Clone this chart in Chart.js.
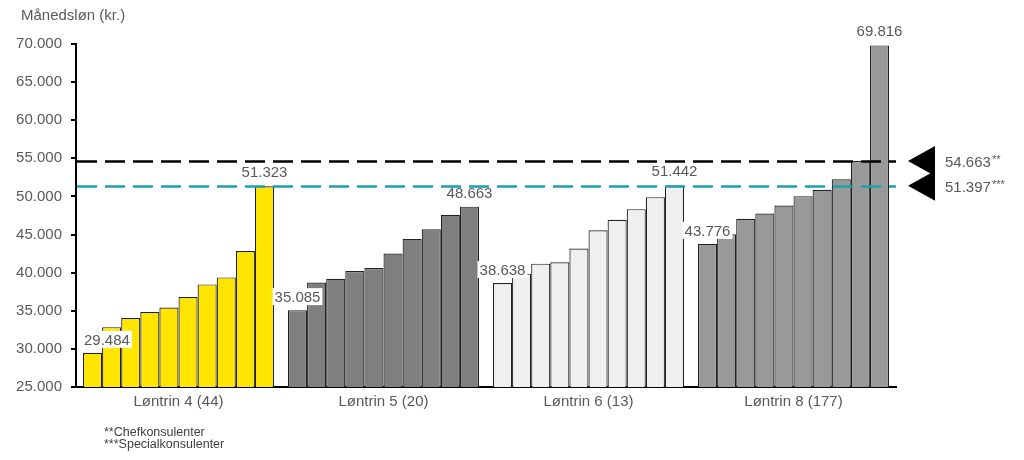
<!DOCTYPE html>
<html lang="da">
<head>
<meta charset="utf-8">
<title>Månedsløn pr. løntrin</title>
<script src="https://cdn.jsdelivr.net/npm/chart.js@4/dist/chart.umd.min.js"></script>
<style>
  html, body { margin: 0; padding: 0; background: #fff; }
  #wrap { width: 1024px; height: 460px; position: relative; }
</style>
</head>
<body>
<div id="wrap"><canvas id="chart"></canvas></div>
<script>
// Data
const groupLabels = ['Løntrin 4 (44)', 'Løntrin 5 (20)', 'Løntrin 6 (13)', 'Løntrin 8 (177)']
const loentrin4 = [29484, 32850, 34040, 34830, 35430, 36800, 38460, 39380, 42850, 51323]
const loentrin5 = [35085, 38700, 39210, 40220, 40620, 42500, 44430, 45700, 47590, 48663]
const loentrin6 = [38638, 39870, 41180, 41360, 43160, 45570, 46930, 48330, 49910, 51442]
const loentrin8 = [43776, 45040, 47070, 47760, 48820, 50040, 50880, 52240, 54650, 69816]
const refValues = [54663, 51397]
const refStars = ['**', '***']
const footnotes = ['**Chefkonsulenter', '***Specialkonsulenter']
const yTitle = 'Månedsløn (kr.)'

// Styles
const groupColors = ['#FFE500', '#7F7F7F', '#EFEFEF', '#999999']
const refColors = ['#000000', '#1AA3AE']
const FONT = '"Liberation Sans", Arial, sans-serif'
const TEXT = '#595959'

const fmt = v => String(Math.round(v)).replace(/\B(?=(\d{3})+(?!\d))/g, '.')

const groups = [loentrin4, loentrin5, loentrin6, loentrin8]
const datasets = []
for(let i = 0; i < 10; i++) {
  datasets.push({
    label: 'Decil ' + (i + 1),
    data: groups.map(g => g[i]),
    backgroundColor: groupColors,
    borderColor: '#222',
    borderWidth: 1.2,
    categoryPercentage: 0.932,
    barPercentage: 1
  })
}

const overlay = {
  id: 'overlay',
  afterDatasetsDraw(chart) {
    const ctx = chart.ctx
    const area = chart.chartArea
    const y = chart.scales.y
    ctx.save()

    // dashed reference lines
    refValues.forEach((v, i) => {
      const py = Math.round(y.getPixelForValue(v)) + 0.5
      ctx.strokeStyle = refColors[i]
      ctx.lineWidth = 2.5
      ctx.setLineDash([20, 8])
      ctx.beginPath()
      ctx.moveTo(area.left + 1, py)
      ctx.lineTo(area.right, py)
      ctx.stroke()
    })
    ctx.setLineDash([])

    // markers + labels on the right
    refValues.forEach((v, i) => {
      const py = y.getPixelForValue(v)
      const tipX = area.right + 12
      ctx.fillStyle = '#000'
      ctx.beginPath()
      ctx.moveTo(tipX, py)
      ctx.lineTo(tipX + 27, py - 15)
      ctx.lineTo(tipX + 27, py + 15)
      ctx.closePath()
      ctx.fill()

      const label = fmt(v)
      ctx.fillStyle = TEXT
      ctx.font = '15px ' + FONT
      ctx.textAlign = 'left'
      ctx.textBaseline = 'alphabetic'
      const tx = area.right + 49
      ctx.fillText(label, tx, py + 6)
      const w = ctx.measureText(label).width
      ctx.font = '11px ' + FONT
      ctx.fillText(refStars[i], tx + w + 1, py + 2)
    })

    // value labels on first and last bar of each group
    ctx.font = '15px ' + FONT
    ctx.textAlign = 'center'
    ctx.textBaseline = 'alphabetic'
    const firstMeta = chart.getDatasetMeta(0)
    const lastMeta = chart.getDatasetMeta(datasets.length - 1)
    groups.forEach((g, gi) => {
      // first bar (white box behind)
      const b0 = firstMeta.data[gi]
      const t0 = fmt(g[0])
      const w0 = ctx.measureText(t0).width
      const cx = Math.max(b0.x, area.left + 8 + w0 / 2)
      const base0 = b0.y - 8
      ctx.fillStyle = '#fff'
      ctx.fillRect(cx - w0 / 2 - 2, base0 - 14, w0 + 4, 17)
      ctx.fillStyle = TEXT
      ctx.fillText(t0, cx, base0)

      // last bar
      const b9 = lastMeta.data[gi]
      ctx.fillText(fmt(g[g.length - 1]), b9.x, b9.y - 9)
    })

    // axis title
    ctx.textAlign = 'left'
    ctx.font = '15px ' + FONT
    ctx.fillStyle = TEXT
    ctx.fillText(yTitle, 21, 20)

    // footnotes
    ctx.font = '12.5px ' + FONT
    ctx.fillStyle = '#404040'
    footnotes.forEach((f, i) => {
      ctx.fillText(f, 104, 436 + i * 11.5)
    })
    ctx.restore()
  }
}

new Chart(document.getElementById('chart'), {
  type: 'bar',
  data: { labels: groupLabels, datasets: datasets },
  options: {
    responsive: true,
    maintainAspectRatio: false,
    animation: false,
    events: [],
    layout: { padding: { left: 0, right: 128, top: 44, bottom: 0 } },
    plugins: {
      legend: { display: false },
      tooltip: { enabled: false }
    },
    scales: {
      x: {
        grid: { display: false, drawTicks: false },
        border: { display: true, color: '#000', width: 2 },
        ticks: { color: TEXT, font: { family: FONT, size: 15 }, padding: 6 },
        afterFit: s => { s.height = 73 }
      },
      y: {
        min: 25000,
        max: 70000,
        ticks: {
          stepSize: 5000,
          color: TEXT,
          font: { family: FONT, size: 15 },
          padding: 9,
          callback: v => fmt(v)
        },
        grid: { drawOnChartArea: false, drawTicks: true, tickLength: 5, color: '#000', lineWidth: 2 },
        border: { display: true, color: '#000', width: 2 },
        afterFit: s => { s.width = 76 }
      }
    }
  },
  plugins: [overlay]
})
</script>
</body>
</html>
